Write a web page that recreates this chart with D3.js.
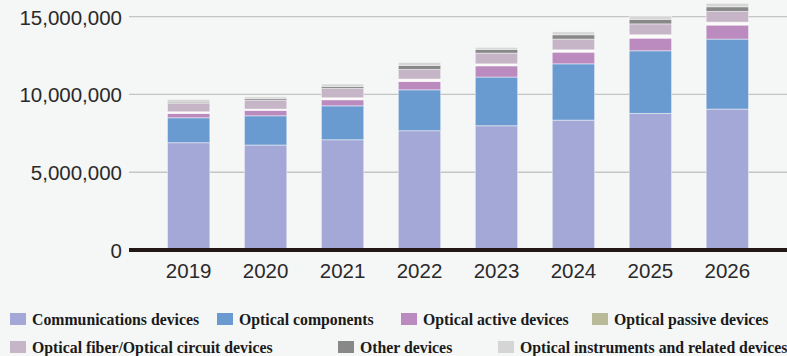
<!DOCTYPE html>
<html>
<head>
<meta charset="utf-8">
<script src="https://cdn.jsdelivr.net/npm/d3@7"></script>
<style>
  html, body { margin: 0; padding: 0; background: #f5f6f6; }
  svg { display: block; }
</style>
</head>
<body>
<svg id="chart" width="787" height="356"></svg>
<script>
// Market size by device category, 2019–2026
const years = ["2019", "2020", "2021", "2022", "2023", "2024", "2025", "2026"];

const communications = [6900000, 6750000, 7090000, 7670000, 7990000, 8350000, 8780000, 9060000];
const opticalComponents = [1600000, 1880000, 2180000, 2630000, 3130000, 3620000, 4030000, 4500000];
const opticalActive = [280000, 350000, 390000, 540000, 720000, 750000, 810000, 900000];
const opticalPassive = [110000, 80000, 130000, 150000, 130000, 150000, 220000, 190000];
const opticalFiber = [540000, 580000, 600000, 620000, 690000, 690000, 700000, 690000];
const otherDevices = [80000, 110000, 130000, 260000, 240000, 280000, 290000, 300000];
const instruments = [170000, 100000, 150000, 190000, 130000, 190000, 210000, 220000];

const yTicks = [0, 5000000, 10000000, 15000000];

const seriesNames = [
  "Communications devices",
  "Optical components",
  "Optical active devices",
  "Optical passive devices",
  "Optical fiber/Optical circuit devices",
  "Other devices",
  "Optical instruments and related devices"
];
const seriesValues = [communications, opticalComponents, opticalActive, opticalPassive,
                      opticalFiber, otherDevices, instruments];
const colors = ["#a3a8d6", "#6a9bd0", "#bb8bbf", "#b9bb98", "#c6b5c7", "#888888", "#d5d5d5"];
// the thin passive band reads as a light separator inside the stacks
const barColors = ["#a3a8d6", "#6a9bd0", "#bb8bbf", "#fbfbf8", "#c6b5c7", "#888888", "#d5d5d5"];

const rows = years.map((y, i) => {
  const r = { year: y };
  seriesNames.forEach((n, k) => { r[n] = seriesValues[k][i]; });
  return r;
});

const svg = d3.select("#chart");
const plotLeft = 129, plotRight = 787, plotBottom = 250;

const x = d3.scaleBand().domain(years).range([plotLeft, plotRight])
  .paddingInner(0.45).paddingOuter(0.5);
const y = d3.scaleLinear().domain([0, 15000000]).range([plotBottom, 16.7]);

// gridlines
svg.append("g").selectAll("line").data(yTicks.filter(d => d > 0)).join("line")
  .attr("x1", plotLeft).attr("x2", plotRight)
  .attr("y1", d => y(d)).attr("y2", d => y(d))
  .attr("stroke", "#c4c5c5").attr("stroke-width", 1.3);

// stacked bars
const stack = d3.stack().keys(seriesNames)(rows);
svg.append("g").selectAll("g").data(stack).join("g")
  .attr("fill", (d, i) => barColors[i])
  .selectAll("rect").data(d => d).join("rect")
  .attr("x", d => x(d.data.year))
  .attr("width", x.bandwidth())
  .attr("y", d => y(d[1]))
  .attr("height", d => y(d[0]) - y(d[1]))
  .attr("stroke", "rgba(255,255,255,0.45)")
  .attr("stroke-width", 1);

// baseline
svg.append("line")
  .attr("x1", plotLeft).attr("x2", plotRight)
  .attr("y1", y(0)).attr("y2", y(0))
  .attr("stroke", "#231815").attr("stroke-width", 4);

// y axis labels
const yAxis = d3.axisLeft(y).tickValues(yTicks).tickSize(0).tickPadding(0)
  .tickFormat(d3.format(","));
const ya = svg.append("g").attr("transform", `translate(122,0)`).call(yAxis);
ya.select(".domain").remove();
ya.selectAll("text")
  .attr("font-family", "'Liberation Sans', Arial, sans-serif")
  .attr("font-size", 20.5).attr("fill", "#2a2a2a").attr("dy", "0.36em");

// x axis labels
const xAxis = d3.axisBottom(x).tickSize(0).tickPadding(0);
const xa = svg.append("g").attr("transform", `translate(0,263)`).call(xAxis);
xa.select(".domain").remove();
xa.selectAll("text")
  .attr("font-family", "'Liberation Sans', Arial, sans-serif")
  .attr("font-size", 20.5).attr("fill", "#2a2a2a").attr("dy", "0.71em");

// legend
const legendPos = [
  [10, 313], [217, 313], [401, 313], [592, 313],
  [10, 341], [338, 341], [498, 341]
];
const lg = svg.append("g").selectAll("g").data(seriesNames).join("g")
  .attr("transform", (d, i) => `translate(${legendPos[i][0]},${legendPos[i][1]})`);
lg.append("rect").attr("width", 16).attr("height", 12)
  .attr("fill", (d, i) => colors[i]);
lg.append("text").attr("x", 22).attr("y", 11.5)
  .attr("font-family", "'Liberation Serif', 'Times New Roman', serif")
  .attr("font-weight", "bold").attr("font-size", 15.8).attr("fill", "#1a1a1a")
  .text(d => d);
</script>
</body>
</html>
